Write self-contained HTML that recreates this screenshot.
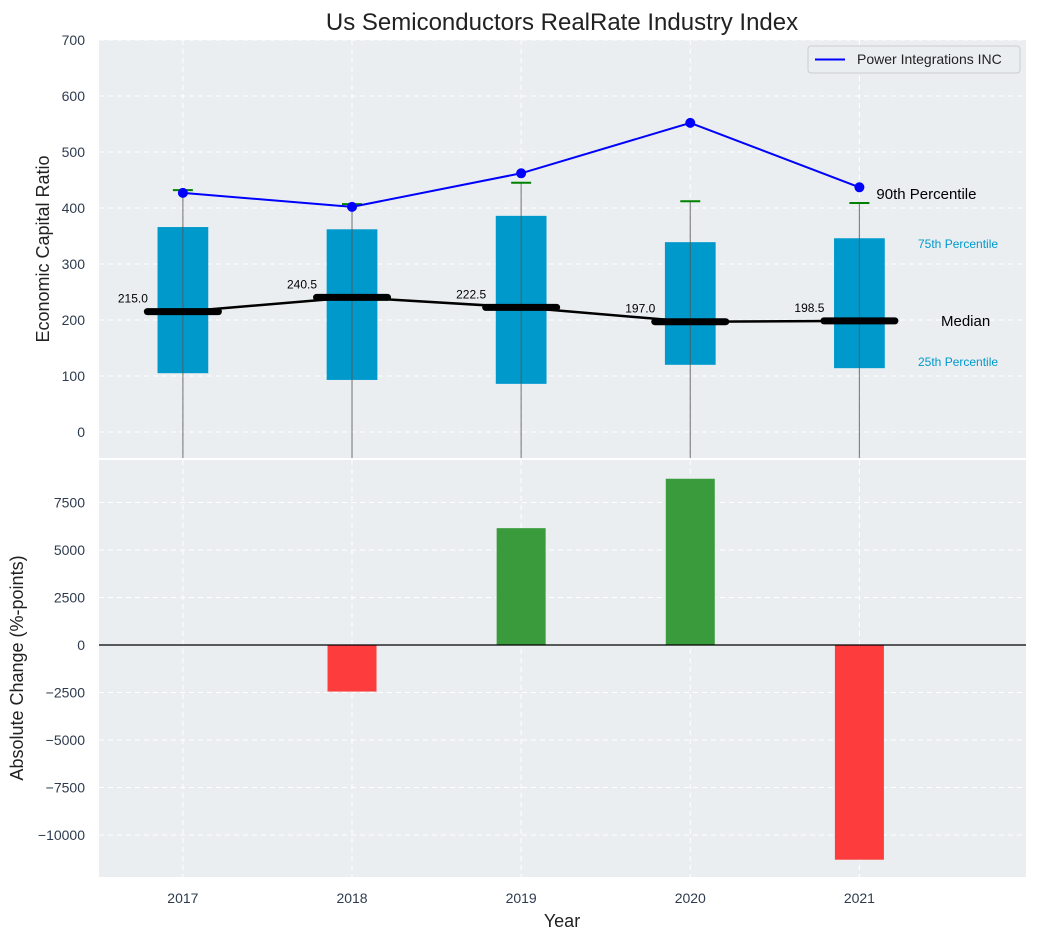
<!DOCTYPE html>
<html><head><meta charset="utf-8"><style>
body{margin:0;background:#fff;font-family:"Liberation Sans",sans-serif}
svg text{font-family:"Liberation Sans",sans-serif}
</style></head><body>
<svg id="c" width="1038" height="940" xmlns="http://www.w3.org/2000/svg"></svg>
<script>
const years=[2017,2018,2019,2020,2021];
const q1=[105,93,86,120,114];
const q3=[366,362,386,339,346];
const medians=[215.0,240.5,222.5,197.0,198.5];
const p90=[432,407,445,412,409];
const company=[427,402,462,552,437];
const changes=[0,-2450,6150,8750,-11300];
const topTicks=[0,100,200,300,400,500,600,700];
const botTicks=[-10000,-7500,-5000,-2500,0,2500,5000,7500];

const NS="http://www.w3.org/2000/svg";
const svg=document.getElementById('c');
function el(t,a,p){const e=document.createElementNS(NS,t);for(const k in a)e.setAttribute(k,a[k]);(p||svg).appendChild(e);return e;}
const L=99,R=1026,XMIN=2016.504,XMAX=2021.985;
const x=v=>L+(v-XMIN)/(XMAX-XMIN)*(R-L);
const T0=40,T1=458,tmin=-46.4,tmax=700;
const yt=v=>T1-(v-tmin)/(tmax-tmin)*(T1-T0);
const B0=460,B1=877,bmin=-12210,bmax=9737;
const yb=v=>B1-(v-bmin)/(bmax-bmin)*(B1-B0);
const ux=(R-L)/(XMAX-XMIN);

let e;
e=el('rect',{x:L,y:T0,width:R-L,height:T1-T0,fill:'#eaeef0'});

e=el('rect',{x:L,y:B0,width:R-L,height:B1-B0,fill:'#eaeef0'});


topTicks.forEach(t=>{
 e=el('line',{x1:L,x2:R,y1:yt(t),y2:yt(t),stroke:'#fff','stroke-dasharray':'5,4','stroke-width':1});
 
 e=el('text',{x:L-14,y:yt(t)+5,'text-anchor':'end','font-size':14,fill:'#2e3b4e'});e.textContent=t;
 
});
botTicks.forEach(t=>{
 e=el('line',{x1:L,x2:R,y1:yb(t),y2:yb(t),stroke:'#fff','stroke-dasharray':'5,4','stroke-width':1});
 
 e=el('text',{x:L-14,y:yb(t)+5,'text-anchor':'end','font-size':14,fill:'#2e3b4e'});e.textContent=(t<0?'\u2212'+(-t):t);
 
});
years.forEach(yr=>{
 [[T0,T1],[B0,B1]].forEach(r=>{
  e=el('line',{x1:x(yr),x2:x(yr),y1:r[0],y2:r[1],stroke:'#fff','stroke-dasharray':'5,4'});
  
 });
 e=el('text',{x:x(yr),y:903,'text-anchor':'middle','font-size':14,fill:'#2e3b4e'});e.textContent=yr;
 
});

const bw=0.3*ux, mw=0.42*ux;
years.forEach((yr,i)=>{
 const cx=x(yr);
 e=el('rect',{x:cx-bw/2,y:yt(q3[i]),width:bw,height:yt(q1[i])-yt(q3[i]),fill:'#0099cc'});
 
 e=el('line',{x1:cx,x2:cx,y1:yt(p90[i]),y2:T1,stroke:'#555','stroke-opacity':0.7,'stroke-width':1.2});
 
 e=el('line',{x1:cx-10,x2:cx+10,y1:yt(p90[i]),y2:yt(p90[i]),stroke:'#008000','stroke-width':2});
 
});
e=el('polyline',{points:years.map((yr,i)=>x(yr)+','+yt(medians[i])).join(' '),fill:'none',stroke:'#000','stroke-width':2.5});

years.forEach((yr,i)=>{
 e=el('line',{x1:x(yr)-mw/2,x2:x(yr)+mw/2,y1:yt(medians[i]),y2:yt(medians[i]),stroke:'#000','stroke-width':7,'stroke-linecap':'round'});
 
 e=el('text',{x:x(yr)-50,y:yt(medians[i])-9,'font-size':12,fill:'#000','text-anchor':'middle'});e.textContent=medians[i].toFixed(1);
 
});
e=el('polyline',{points:years.map((yr,i)=>x(yr)+','+yt(company[i])).join(' '),fill:'none',stroke:'#0000ff','stroke-width':2});

years.forEach((yr,i)=>{
 e=el('circle',{cx:x(yr),cy:yt(company[i]),r:5,fill:'#0000ff'});
 
});
const lx=x(2021);
e=el('text',{x:lx+17,y:yt(p90[4])-4,'font-size':15,fill:'#000'});e.textContent='90th Percentile';

e=el('text',{x:918,y:yt(q3[4])+10,'font-size':12,fill:'#0099cc'});e.textContent='75th Percentile';

e=el('text',{x:918,y:yt(q1[4])-2,'font-size':12,fill:'#0099cc'});e.textContent='25th Percentile';

e=el('text',{x:941,y:yt(medians[4])+5,'font-size':15,fill:'#000'});e.textContent='Median';


years.forEach((yr,i)=>{
 const v=changes[i];
 e=el('rect',{x:x(yr)-24.5,y:Math.min(yb(v),yb(0)),width:49,height:Math.abs(yb(v)-yb(0)),fill:v>=0?'#3a9b3c':'#fd3d3d'});
 
});
e=el('line',{x1:L,x2:R,y1:yb(0),y2:yb(0),stroke:'#000','stroke-width':1.2});


const g=el('g',{});
el('rect',{x:808,y:46,width:212,height:27,rx:3,fill:'#eaeef0',stroke:'#ccc'},g);
el('line',{x1:815,x2:845,y1:59.5,y2:59.5,stroke:'#0000ff','stroke-width':2},g);
e=el('text',{x:857,y:64,'font-size':14,fill:'#222'},g);e.textContent='Power Integrations INC';


e=el('text',{x:562,y:30,'text-anchor':'middle','font-size':24,fill:'#222'});e.textContent='Us Semiconductors RealRate Industry Index';

e=el('text',{x:0,y:0,'text-anchor':'middle','font-size':18,fill:'#222',transform:'translate(49,249) rotate(-90)'});e.textContent='Economic Capital Ratio';

e=el('text',{x:0,y:0,'text-anchor':'middle','font-size':18,fill:'#222',transform:'translate(23,668) rotate(-90)'});e.textContent='Absolute Change (%-points)';

e=el('text',{x:562,y:927,'text-anchor':'middle','font-size':18,fill:'#222'});e.textContent='Year';

</script>
</body></html>
